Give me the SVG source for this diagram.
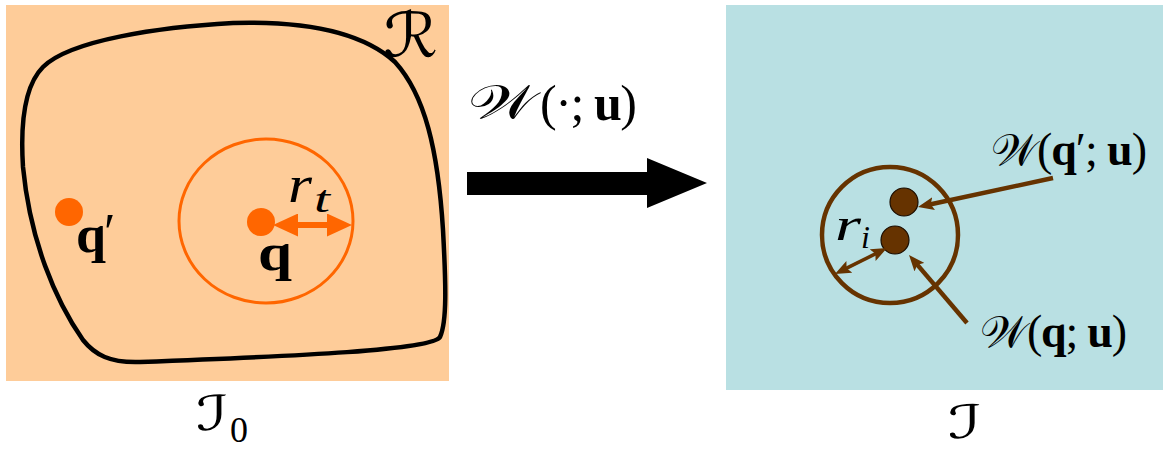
<svg xmlns="http://www.w3.org/2000/svg" width="1163" height="450" viewBox="0 0 1163 450">
  <style>
    .m { font-family: "Liberation Serif", "Times New Roman", serif; fill: #000; }
    .b { font-weight: bold; }
    .it { font-style: italic; }
    .scr { font-family: "DejaVu Serif", "DejaVu Sans", serif; font-style: normal; fill: #000; }
    .brown { stroke: #663300; fill: none; }
  </style>
  <defs>
    <marker id="ao" viewBox="0 0 25 23" refX="5" refY="11.5" markerWidth="25" markerHeight="23" markerUnits="userSpaceOnUse" orient="auto-start-reverse">
      <path d="M0,0 L25,11.5 L0,23 z" fill="#FF6600"/>
    </marker>
    <marker id="ab" viewBox="0 0 16 13" refX="4" refY="6.5" markerWidth="16" markerHeight="13" markerUnits="userSpaceOnUse" orient="auto-start-reverse">
      <path d="M0,0 L16,6.5 L0,13 L3,6.5 z" fill="#663300"/>
    </marker>
  </defs>
  <rect width="1163" height="450" fill="#FFFFFF"/>

  <g id="panel-I0">
    <rect x="6" y="5" width="443" height="376" fill="#FECC99"/>
    <path d="M 43,67 C 70,40 160,27 233,23 C 300,21 360,30 395,62 C 425,95 438,150 443,230 C 446,285 447,322 440,337 C 432,350 300,356 140,362 C 110,363 95,355 83,340 C 55,300 30,240 23,167 C 20,120 25,85 43,67 Z" fill="none" stroke="#000" stroke-width="4.5"/>
    <text class="scr" x="383" y="57" font-size="62" textLength="55" lengthAdjust="spacingAndGlyphs">ℛ</text>
    <text class="scr" x="196" y="430" font-size="48" textLength="33" lengthAdjust="spacingAndGlyphs">ℐ</text>
    <text class="m" x="230" y="442" font-size="36">0</text>
  </g>

  <g id="node-neigh">
    <ellipse cx="266" cy="221" rx="87" ry="82" fill="none" stroke="#FF6600" stroke-width="3"/>
  </g>
  <g id="node-q">
    <circle cx="261" cy="222" r="14" fill="#FF6600"/>
    <text class="m b" x="258" y="270" font-size="52" textLength="34" lengthAdjust="spacingAndGlyphs">q</text>
  </g>
  <g id="node-qprime">
    <circle cx="69" cy="212" r="14" fill="#FF6600"/>
    <text class="m b" x="76" y="252" font-size="52" textLength="30" lengthAdjust="spacingAndGlyphs">q</text>
    <text class="m" x="104" y="250" font-size="52">′</text>
  </g>

  <g id="panel-I">
    <rect x="726" y="5" width="437" height="385" fill="#B9E0E3"/>
    <circle cx="890" cy="235" r="68" class="brown" stroke-width="4.5"/>
    <text class="scr" x="948" y="438" font-size="46" textLength="34" lengthAdjust="spacingAndGlyphs">ℐ</text>
  </g>
  <g id="node-Wqp">
    <circle cx="904" cy="202" r="14" fill="#663300" stroke="#1A0D00" stroke-width="1.2"/>
    <text class="scr" x="991" y="165" font-size="44" textLength="46" lengthAdjust="spacingAndGlyphs">𝒲</text>
    <text class="m" x="1037" y="165" font-size="46" textLength="110">(<tspan class="b">q</tspan>′; <tspan class="b">u</tspan>)</text>
  </g>
  <g id="node-Wq">
    <circle cx="895" cy="240" r="14" fill="#663300" stroke="#1A0D00" stroke-width="1.2"/>
    <text class="scr" x="980" y="347" font-size="44" textLength="47" lengthAdjust="spacingAndGlyphs">𝒲</text>
    <text class="m" x="1027" y="347" font-size="46" textLength="100">(<tspan class="b">q</tspan>; <tspan class="b">u</tspan>)</text>
  </g>

  <g id="connectors">
    <line x1="293" y1="225" x2="332" y2="225" stroke="#FF6600" stroke-width="6" marker-start="url(#ao)" marker-end="url(#ao)"/>
    <text class="m it" x="288" y="202" font-size="52" textLength="24" lengthAdjust="spacingAndGlyphs">r</text>
    <text class="m it" x="314" y="212" font-size="38" textLength="16" lengthAdjust="spacingAndGlyphs">t</text>
    <path d="M467,172 H647 V158 L707,183 L647,208 V195 H467 Z" fill="#000"/>
    <text class="scr" x="468" y="118" font-size="46" textLength="68" lengthAdjust="spacingAndGlyphs">𝒲</text>
    <text class="m" x="540" y="120" font-size="50" textLength="97">(·; <tspan class="b">u</tspan>)</text>
    <line x1="1053" y1="178" x2="929.7" y2="204.5" class="brown" stroke-width="4.5" marker-end="url(#ab)"/>
    <line x1="967" y1="323" x2="916.8" y2="264.1" class="brown" stroke-width="4.5" marker-end="url(#ab)"/>
    <line x1="845.7" y1="268.6" x2="876.3" y2="253.4" class="brown" stroke-width="3.5" marker-start="url(#ab)" marker-end="url(#ab)"/>
    <text class="m it" x="835" y="240" font-size="46" textLength="26" lengthAdjust="spacingAndGlyphs">r</text>
    <text class="m it" x="861" y="248" font-size="32">i</text>
  </g>
</svg>
